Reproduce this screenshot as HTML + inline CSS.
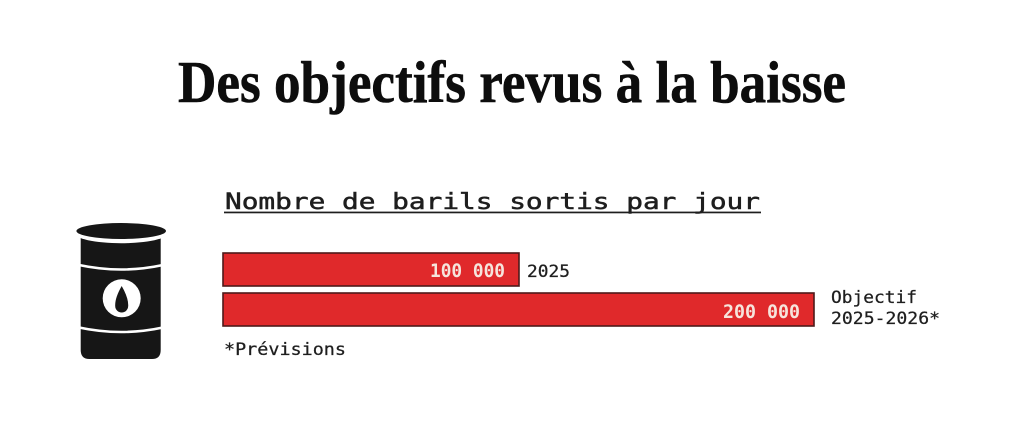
<!DOCTYPE html>
<html>
<head>
<meta charset="utf-8">
<style>
html,body{margin:0;padding:0;background:#fff;}
body{width:1024px;height:437px;overflow:hidden;}
svg{display:block;}
</style>
</head>
<body>
<svg width="1024" height="437" viewBox="0 0 1024 437" xmlns="http://www.w3.org/2000/svg">
  <rect x="0" y="0" width="1024" height="437" fill="#ffffff"/>
  <!-- Title -->
  <text x="178" y="102" font-family="'Liberation Serif', serif" font-weight="bold" font-size="59" fill="#0d0d0d" stroke="#0d0d0d" stroke-width="0.6" textLength="668" lengthAdjust="spacingAndGlyphs">Des objectifs revus à la baisse</text>

  <!-- Subtitle -->
  <text x="225" y="209" font-family="'DejaVu Sans Mono', 'Liberation Mono', monospace" font-size="22.5" fill="#1e1e1e" stroke="#1e1e1e" stroke-width="0.5" textLength="535" lengthAdjust="spacingAndGlyphs">Nombre de barils sortis par jour</text>
  <rect x="224" y="211.6" width="537" height="1.7" fill="#1e1e1e"/>

  <!-- Barrel icon -->
  <g>
    <path d="M80.7 234 H160.7 V350 Q160.7 359 152 359 H89.4 Q80.7 359 80.7 350 Z" fill="#161616"/>
    <ellipse cx="121.2" cy="233" rx="47" ry="10.2" fill="#ffffff"/>
    <ellipse cx="121.2" cy="231" rx="44.8" ry="8" fill="#161616"/>
    <path d="M79 265 Q121 274 163 265" stroke="#ffffff" stroke-width="2.6" fill="none"/>
    <path d="M79 327.5 Q121 336.5 163 327.5" stroke="#ffffff" stroke-width="2.6" fill="none"/>
    <circle cx="121.7" cy="298.3" r="19" fill="#ffffff"/>
    <path d="M121.7 286 Q128.6 298 128.2 306 A6.5 6.5 0 0 1 115.2 306 Q114.8 298 121.7 286 Z" fill="#161616"/>
  </g>

  <!-- Bars -->
  <rect x="223" y="253" width="296" height="33" fill="#e0292b" stroke="#4e1a1a" stroke-width="1.6"/>
  <rect x="223" y="293" width="591" height="33" fill="#e0292b" stroke="#4e1a1a" stroke-width="1.6"/>

  <text x="430" y="277" font-family="'DejaVu Sans Mono', 'Liberation Mono', monospace" font-weight="bold" font-size="18.5" fill="#f6e4dc" textLength="75" lengthAdjust="spacingAndGlyphs">100 000</text>
  <text x="723" y="318" font-family="'DejaVu Sans Mono', 'Liberation Mono', monospace" font-weight="bold" font-size="18.5" fill="#f6e4dc" textLength="77" lengthAdjust="spacingAndGlyphs">200 000</text>

  <text x="527" y="277" font-family="'DejaVu Sans Mono', 'Liberation Mono', monospace" font-size="16.5" fill="#1e1e1e" stroke="#1e1e1e" stroke-width="0.25" textLength="43" lengthAdjust="spacingAndGlyphs">2025</text>
  <text x="831" y="303" font-family="'DejaVu Sans Mono', 'Liberation Mono', monospace" font-size="16.5" fill="#1e1e1e" stroke="#1e1e1e" stroke-width="0.25" textLength="86" lengthAdjust="spacingAndGlyphs">Objectif</text>
  <text x="831" y="324" font-family="'DejaVu Sans Mono', 'Liberation Mono', monospace" font-size="16.5" fill="#1e1e1e" stroke="#1e1e1e" stroke-width="0.25" textLength="109" lengthAdjust="spacingAndGlyphs">2025-2026*</text>

  <text x="224" y="355" font-family="'DejaVu Sans Mono', 'Liberation Mono', monospace" font-size="16.5" fill="#1e1e1e" stroke="#1e1e1e" stroke-width="0.25" textLength="122" lengthAdjust="spacingAndGlyphs">*Prévisions</text>
</svg>
</body>
</html>
